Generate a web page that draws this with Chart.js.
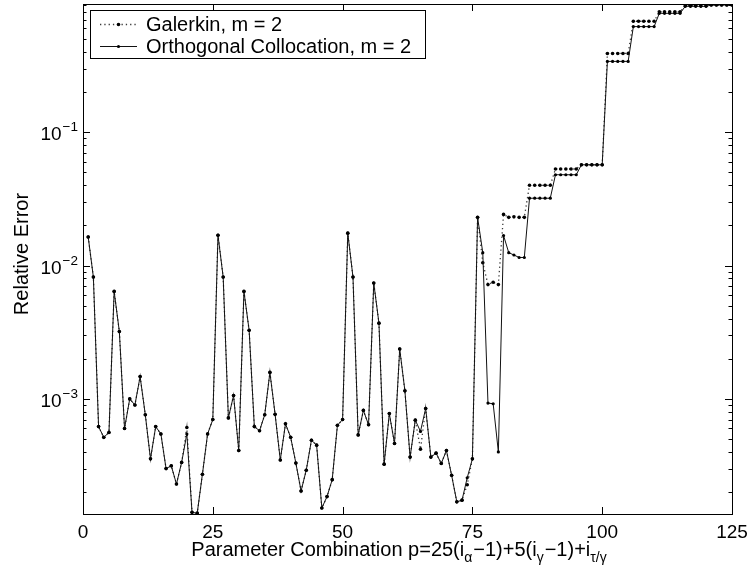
<!DOCTYPE html>
<html>
<head>
<meta charset="utf-8">
<title>Relative Error vs Parameter Combination</title>
<script src="https://cdn.jsdelivr.net/npm/chart.js@4.4.1/dist/chart.umd.min.js"></script>
<style>
  html, body { margin: 0; padding: 0; background: #fff; }
  canvas { display: block; }
</style>
</head>
<body>
<canvas id="errChart" width="751" height="581"></canvas>
<script>
// parameter combination index p = 1..125
const paramIdx = Array.from({ length: 125 }, (_, i) => i + 1);

// Galerkin, m = 2
const galerkin = [
  0.0164, 0.0082, 6.2e-4, 5.15e-4, 5.6e-4,
  6.4e-3, 3.2e-3, 6.0e-4, 1.0e-3, 9.0e-4,
  1.47e-3, 7.6e-4, 3.55e-4, 6.2e-4, 5.46e-4,
  3.0e-4, 3.15e-4, 2.3e-4, 3.34e-4, 6.1e-4,
  1.41e-4, 1.39e-4, 2.72e-4, 5.46e-4, 7.0e-4,
  0.0169, 0.0082, 7.2e-4, 1.06e-3, 4.1e-4,
  6.4e-3, 3.27e-3, 6.2e-4, 5.77e-4, 7.6e-4,
  1.58e-3, 7.66e-4, 3.48e-4, 6.5e-4, 5.15e-4,
  3.3e-4, 2.04e-4, 2.92e-4, 4.9e-4, 4.5e-4,
  1.52e-4, 1.85e-4, 2.48e-4, 6.34e-4, 7.0e-4,
  0.0175, 0.0082, 5.37e-4, 8.2e-4, 6.4e-4,
  7.4e-3, 3.7e-3, 3.24e-4, 7.76e-4, 4.63e-4,
  2.37e-3, 1.15e-3, 3.66e-4, 6.93e-4, 4.2e-4,
  8.48e-4, 3.66e-4, 3.92e-4, 3.28e-4, 4.1e-4,
  2.67e-4, 1.69e-4, 1.74e-4, 2.27e-4, 3.55e-4,
  0.023, 0.0105, 0.0072, 0.0075, 0.0072,
  0.0242, 0.023, 0.0232, 0.023, 0.023,
  0.040, 0.040, 0.040, 0.040, 0.040,
  0.053, 0.053, 0.053, 0.053, 0.053,
  0.057, 0.057, 0.057, 0.057, 0.057,
  0.39, 0.39, 0.39, 0.39, 0.39,
  0.68, 0.68, 0.68, 0.68, 0.68,
  0.80, 0.80, 0.80, 0.80, 0.80,
  0.89, 0.89, 0.89, 0.89, 0.89,
  0.90, 0.90, 0.90, 0.90, 0.90
];

// Orthogonal Collocation, m = 2
const collocation = [
  0.0164, 0.0082, 6.2e-4, 5.15e-4, 5.6e-4,
  6.4e-3, 3.2e-3, 6.0e-4, 1.0e-3, 9.0e-4,
  1.47e-3, 7.6e-4, 3.55e-4, 6.2e-4, 5.46e-4,
  3.0e-4, 3.15e-4, 2.3e-4, 3.34e-4, 5.46e-4,
  1.41e-4, 1.39e-4, 2.72e-4, 5.46e-4, 7.0e-4,
  0.0169, 0.0082, 7.2e-4, 1.06e-3, 4.1e-4,
  6.4e-3, 3.27e-3, 6.2e-4, 5.77e-4, 7.6e-4,
  1.58e-3, 7.66e-4, 3.48e-4, 6.5e-4, 5.15e-4,
  3.3e-4, 2.04e-4, 2.92e-4, 4.9e-4, 4.5e-4,
  1.52e-4, 1.85e-4, 2.48e-4, 6.34e-4, 7.0e-4,
  0.0175, 0.0082, 5.37e-4, 8.2e-4, 6.4e-4,
  7.4e-3, 3.7e-3, 3.24e-4, 7.76e-4, 4.63e-4,
  2.37e-3, 1.15e-3, 3.66e-4, 6.93e-4, 5.7e-4,
  8.48e-4, 3.66e-4, 3.92e-4, 3.28e-4, 4.1e-4,
  2.67e-4, 1.69e-4, 1.74e-4, 2.56e-4, 3.55e-4,
  0.023, 0.0125, 9.3e-4, 9.2e-4, 4.0e-4,
  0.0168, 0.0125, 0.012, 0.0115, 0.0115,
  0.032, 0.032, 0.032, 0.032, 0.032,
  0.048, 0.048, 0.048, 0.048, 0.048,
  0.057, 0.057, 0.057, 0.057, 0.057,
  0.34, 0.34, 0.34, 0.34, 0.34,
  0.62, 0.62, 0.62, 0.62, 0.62,
  0.78, 0.78, 0.78, 0.78, 0.78,
  0.88, 0.88, 0.88, 0.88, 0.88,
  0.90, 0.90, 0.90, 0.90, 0.90
];

const seriesNames = ['Galerkin, m = 2', 'Orthogonal Collocation, m = 2'];
const xTickValues = [0, 25, 50, 75, 100, 125];
const yDecadeExps = [-3, -2, -1];          // labelled decades 10^-3 .. 10^-1
const yMinorMantissas = [2, 3, 4, 5, 6, 7, 8, 9];
const yMinorDecades = [-4, -3, -2, -1];
const xTitleParts = [
  ['Parameter Combination p=25(i', 0], ['\u03b1', 1], ['\u22121)+5(i', 0], ['\u03b3', 1],
  ['\u22121)+i', 0], ['\u03c4/\u03b3', 1]
];
const yTitle = 'Relative Error';

const FONT = '"Liberation Sans", Arial, Helvetica, sans-serif';

// draws a run of text pieces (normal / raised / lowered) on one baseline
function drawRun(ctx, parts, x, y, align) {
  let total = 0;
  const w = parts.map(p => {
    ctx.font = p.size + 'px ' + FONT;
    const m = ctx.measureText(p.t).width + (p.gap || 0);
    total += m;
    return m;
  });
  let cur = align === 'center' ? x - total / 2 : (align === 'right' ? x - total : x);
  ctx.textBaseline = 'alphabetic';
  ctx.textAlign = 'left';
  parts.forEach((p, i) => {
    ctx.font = p.size + 'px ' + FONT;
    ctx.fillText(p.t, cur, y + (p.dy || 0));
    cur += w[i];
  });
}

const matlabAxes = {
  id: 'matlabAxes',
  afterDraw(chart) {
    const ctx = chart.ctx;
    const a = chart.chartArea;
    const xs = chart.scales.x, ys = chart.scales.y;
    ctx.save();
    ctx.strokeStyle = '#000';
    ctx.fillStyle = '#000';
    ctx.lineWidth = 1;

    // box
    ctx.strokeRect(Math.round(a.left) + 0.5, Math.round(a.top) + 0.5,
      Math.round(a.right - a.left), Math.round(a.bottom - a.top));

    // x ticks (in, bottom and top) + labels
    xTickValues.forEach(v => {
      const px = Math.round(xs.getPixelForValue(v)) + 0.5;
      ctx.beginPath();
      ctx.moveTo(px, a.bottom); ctx.lineTo(px, a.bottom - 7);
      ctx.moveTo(px, a.top); ctx.lineTo(px, a.top + 7);
      ctx.stroke();
      drawRun(ctx, [{ t: String(v), size: 19 }], xs.getPixelForValue(v), a.bottom + 24, 'center');
    });

    // y ticks, minor and major, both sides
    const yMin = ys.min, yMax = ys.max;
    yMinorDecades.forEach(e => {
      yMinorMantissas.forEach(m => {
        const v = m * Math.pow(10, e);
        if (v < yMin || v > yMax) return;
        const py = Math.round(ys.getPixelForValue(v)) + 0.5;
        ctx.beginPath();
        ctx.moveTo(a.left, py); ctx.lineTo(a.left + 3.5, py);
        ctx.moveTo(a.right, py); ctx.lineTo(a.right - 3.5, py);
        ctx.stroke();
      });
    });
    yDecadeExps.forEach(e => {
      const v = Math.pow(10, e);
      const py = Math.round(ys.getPixelForValue(v)) + 0.5;
      ctx.beginPath();
      ctx.moveTo(a.left, py); ctx.lineTo(a.left + 7, py);
      ctx.moveTo(a.right, py); ctx.lineTo(a.right - 7, py);
      ctx.stroke();
      drawRun(ctx, [
        { t: '10', size: 19, gap: 1 },
        { t: '\u2212' + Math.abs(e), size: 13.5, dy: -9 }
      ], a.left - 5, py + 7, 'right');
    });

    // x title with subscripts
    drawRun(ctx, xTitleParts.map(([t, sub]) => sub
      ? { t: t, size: 14, dy: 6, gap: 1 }
      : { t: t, size: 20 }), (a.left + a.right) / 2 - 8, a.bottom + 42, 'center');

    // y title, rotated
    ctx.save();
    ctx.translate(28, (a.top + a.bottom) / 2 - 5);
    ctx.rotate(-Math.PI / 2);
    ctx.font = '20px ' + FONT;
    ctx.textAlign = 'center';
    ctx.textBaseline = 'alphabetic';
    ctx.fillText(yTitle, 0, 0);
    ctx.restore();

    // legend box inside the plot, upper left
    const lx = 90.5, ly = 10.5, lw = 335, lh = 48;
    ctx.fillStyle = '#fff';
    ctx.fillRect(lx, ly, lw, lh);
    ctx.strokeRect(lx, ly, lw, lh);
    ctx.fillStyle = '#000';
    const rows = [ly + 13, ly + 35];
    chart.data.datasets.forEach((ds, i) => {
      const ry = Math.round(rows[i]) + 0.5;
      ctx.save();
      ctx.strokeStyle = ds.borderColor;
      ctx.lineWidth = ds.borderWidth;
      ctx.setLineDash(ds.borderDash || []);
      ctx.beginPath();
      ctx.moveTo(100, ry); ctx.lineTo(137, ry);
      ctx.stroke();
      ctx.restore();
      ctx.beginPath();
      ctx.arc(118.5, ry, ds.pointRadius, 0, Math.PI * 2);
      ctx.fill();
      drawRun(ctx, [{ t: seriesNames[i], size: 20 }], 146, rows[i] + 7, 'left');
    });
    ctx.restore();
  }
};

document.addEventListener('DOMContentLoaded', function () {
  const ctx = document.getElementById('errChart').getContext('2d');
  new Chart(ctx, {
    type: 'line',
    data: {
      datasets: [{
        label: seriesNames[0],
        data: paramIdx.map((p, i) => ({ x: p, y: galerkin[i] })),
        borderColor: '#3a3a3a',
        borderWidth: 1.3,
        borderDash: [1.3, 3],
        pointRadius: 1.8,
        pointBackgroundColor: '#000',
        pointBorderWidth: 0,
        tension: 0,
        order: 2
      }, {
        label: seriesNames[1],
        data: paramIdx.map((p, i) => ({ x: p, y: collocation[i] })),
        borderColor: '#111',
        borderWidth: 1,
        pointRadius: 1.6,
        pointBackgroundColor: '#000',
        pointBorderWidth: 0,
        tension: 0,
        order: 1
      }]
    },
    options: {
      responsive: false,
      animation: false,
      layout: { padding: { top: 4, right: 19, left: 0, bottom: 0 } },
      plugins: {
        legend: { display: false },
        tooltip: { enabled: false }
      },
      scales: {
        x: {
          type: 'linear',
          min: 0,
          max: 125,
          grid: { display: false },
          border: { display: false },
          ticks: { display: false },
          afterFit: s => { s.height = 67; }
        },
        y: {
          type: 'logarithmic',
          min: 1.37e-4,
          max: 0.916,
          grid: { display: false },
          border: { display: false },
          ticks: { display: false },
          afterFit: s => { s.width = 83; }
        }
      }
    },
    plugins: [matlabAxes]
  });
});
</script>
</body>
</html>
